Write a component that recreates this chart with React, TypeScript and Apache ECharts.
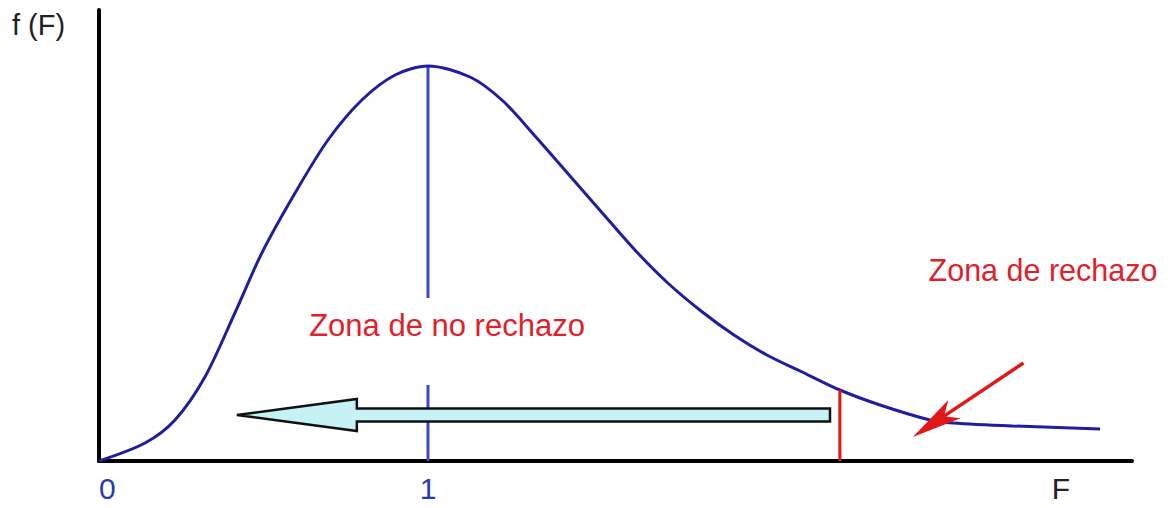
import React, { useEffect, useRef } from "react";
import * as echarts from "echarts";

// F-distribution density curve (F, f(F))
const curveF = [0, 0.14, 0.231, 0.322, 0.413, 0.495, 0.596, 0.696, 0.799, 0.9, 1.0, 1.128, 1.228, 1.328, 1.429, 1.53, 1.629, 1.729, 1.83, 1.93, 2.03, 2.131, 2.252, 2.374, 2.526, 2.596, 2.778, 3.043];
const curveY = [0, 0.036, 0.082, 0.168, 0.296, 0.416, 0.536, 0.642, 0.722, 0.772, 0.79, 0.768, 0.72, 0.648, 0.572, 0.496, 0.422, 0.356, 0.3, 0.252, 0.212, 0.18, 0.142, 0.112, 0.082, 0.076, 0.07, 0.064];

// mean line at F = 1 (split around the label)
const meanF = 1;
const meanUpper = [0.79, 0.326];
const meanLower = [0.152, 0];

// critical value line
const critF = 2.252;
const critTop = 0.142;

// arrows: [F, f] of tail and tip
const noRejectArrow = [[2.222, 0.092], [0.419, 0.092]];
const rejectArrow = [[2.81, 0.196], [2.474, 0.048]];

const tickValues = [0, 1];
const xMax = 3.14;
const yMax = 0.902;

const FONT = "'Liberation Sans', Arial, sans-serif";

export default function App() {
  const ref = useRef<HTMLDivElement>(null);
  useEffect(() => {
    if (!ref.current) return;
    const chart = echarts.init(ref.current, undefined, { renderer: "svg" });
    const curve = curveF.map((f, i) => [f, curveY[i]]);

    const option: any = {
      animation: false,
      backgroundColor: "#ffffff",
      grid: { left: 99, right: 41, top: 10, bottom: 47 },
      xAxis: {
        type: "value",
        min: 0,
        max: xMax,
        splitLine: { show: false },
        axisTick: { show: false },
        axisLine: { show: true, lineStyle: { color: "#000", width: 4 } },
        axisLabel: {
          customValues: tickValues,
          color: "#2a3ab2",
          fontSize: 30,
          fontFamily: FONT,
          margin: 12,
          alignMinLabel: "left",
          formatter: (v: number) => String(v),
        },
      },
      yAxis: {
        type: "value",
        min: 0,
        max: yMax,
        splitLine: { show: false },
        axisTick: { show: false },
        axisLabel: { show: false },
        axisLine: { show: true, lineStyle: { color: "#000", width: 4 } },
      },
      series: [
        {
          type: "line",
          data: curve,
          smooth: 0.3,
          showSymbol: false,
          lineStyle: { color: "#1e1ea0", width: 3 },
          z: 5,
        },
        {
          type: "line",
          data: meanUpper.map((y) => [meanF, y]),
          showSymbol: false,
          lineStyle: { color: "#3a48cc", width: 3 },
          z: 3,
        },
        {
          type: "line",
          data: meanLower.map((y) => [meanF, y]),
          showSymbol: false,
          lineStyle: { color: "#3a48cc", width: 3 },
          z: 3,
        },
        {
          type: "line",
          data: [[critF, critTop], [critF, 0]],
          showSymbol: false,
          lineStyle: { color: "#e81212", width: 3 },
          z: 6,
        },
        {
          type: "custom",
          data: [noRejectArrow[0].concat(noRejectArrow[1])],
          z: 4,
          renderItem: (params: any, api: any) => {
            const tail = api.coord([api.value(0), api.value(1)]);
            const tip = api.coord([api.value(2), api.value(3)]);
            const y = tip[1];
            const headX = tip[0] + 120;
            const sh = 6.5;
            const hh = 16;
            return {
              type: "polygon",
              shape: {
                points: [
                  [tip[0], y],
                  [headX, y - hh],
                  [headX, y - sh],
                  [tail[0], y - sh],
                  [tail[0], y + sh],
                  [headX, y + sh],
                  [headX, y + hh],
                ],
              },
              style: { fill: "#c6f2f6", stroke: "#111", lineWidth: 2.5, lineJoin: "miter" },
            };
          },
        },
        {
          type: "custom",
          data: [rejectArrow[0].concat(rejectArrow[1])],
          z: 7,
          renderItem: (params: any, api: any) => {
            const tail = api.coord([api.value(0), api.value(1)]);
            const tip = api.coord([api.value(2), api.value(3)]);
            const dx = tip[0] - tail[0];
            const dy = tip[1] - tail[1];
            const len = Math.sqrt(dx * dx + dy * dy);
            const ux = dx / len;
            const uy = dy / len;
            const px = -uy;
            const py = ux;
            const hl = 50;
            const hw = 11;
            const base = [tip[0] - ux * hl, tip[1] - uy * hl];
            const notch = [tip[0] - ux * hl * 0.75, tip[1] - uy * hl * 0.75];
            return {
              type: "group",
              children: [
                {
                  type: "line",
                  shape: { x1: tail[0], y1: tail[1], x2: notch[0], y2: notch[1] },
                  style: { stroke: "#e01818", lineWidth: 3.5 },
                },
                {
                  type: "polygon",
                  shape: {
                    points: [
                      tip,
                      [base[0] + px * hw, base[1] + py * hw],
                      notch,
                      [base[0] - px * hw, base[1] - py * hw],
                    ],
                  },
                  style: { fill: "#e01818" },
                },
              ],
            };
          },
        },
      ],
      graphic: [
        {
          type: "text",
          left: 12,
          top: 10,
          style: { text: "f (F)", fontSize: 29, fontFamily: FONT, fill: "#222" },
        },
        {
          type: "text",
          x: 1061,
          y: 488,
          style: { text: "F", fontSize: 30, fontFamily: FONT, fill: "#222", textAlign: "center", textVerticalAlign: "middle" },
        },
        {
          type: "text",
          x: 447,
          y: 325,
          style: { text: "Zona de no rechazo", fontSize: 31, fontFamily: FONT, fill: "#e0202a", textAlign: "center", textVerticalAlign: "middle" },
        },
        {
          type: "text",
          x: 1043,
          y: 270,
          style: { text: "Zona de rechazo", fontSize: 30.5, fontFamily: FONT, fill: "#e0202a", textAlign: "center", textVerticalAlign: "middle" },
        },
      ],
    };
    chart.setOption(option);
    return () => chart.dispose();
  }, []);
  return (
    <div
      ref={ref}
      style={{ position: "absolute", left: 0, top: 0, width: 1173, height: 508 }}
    />
  );
}
